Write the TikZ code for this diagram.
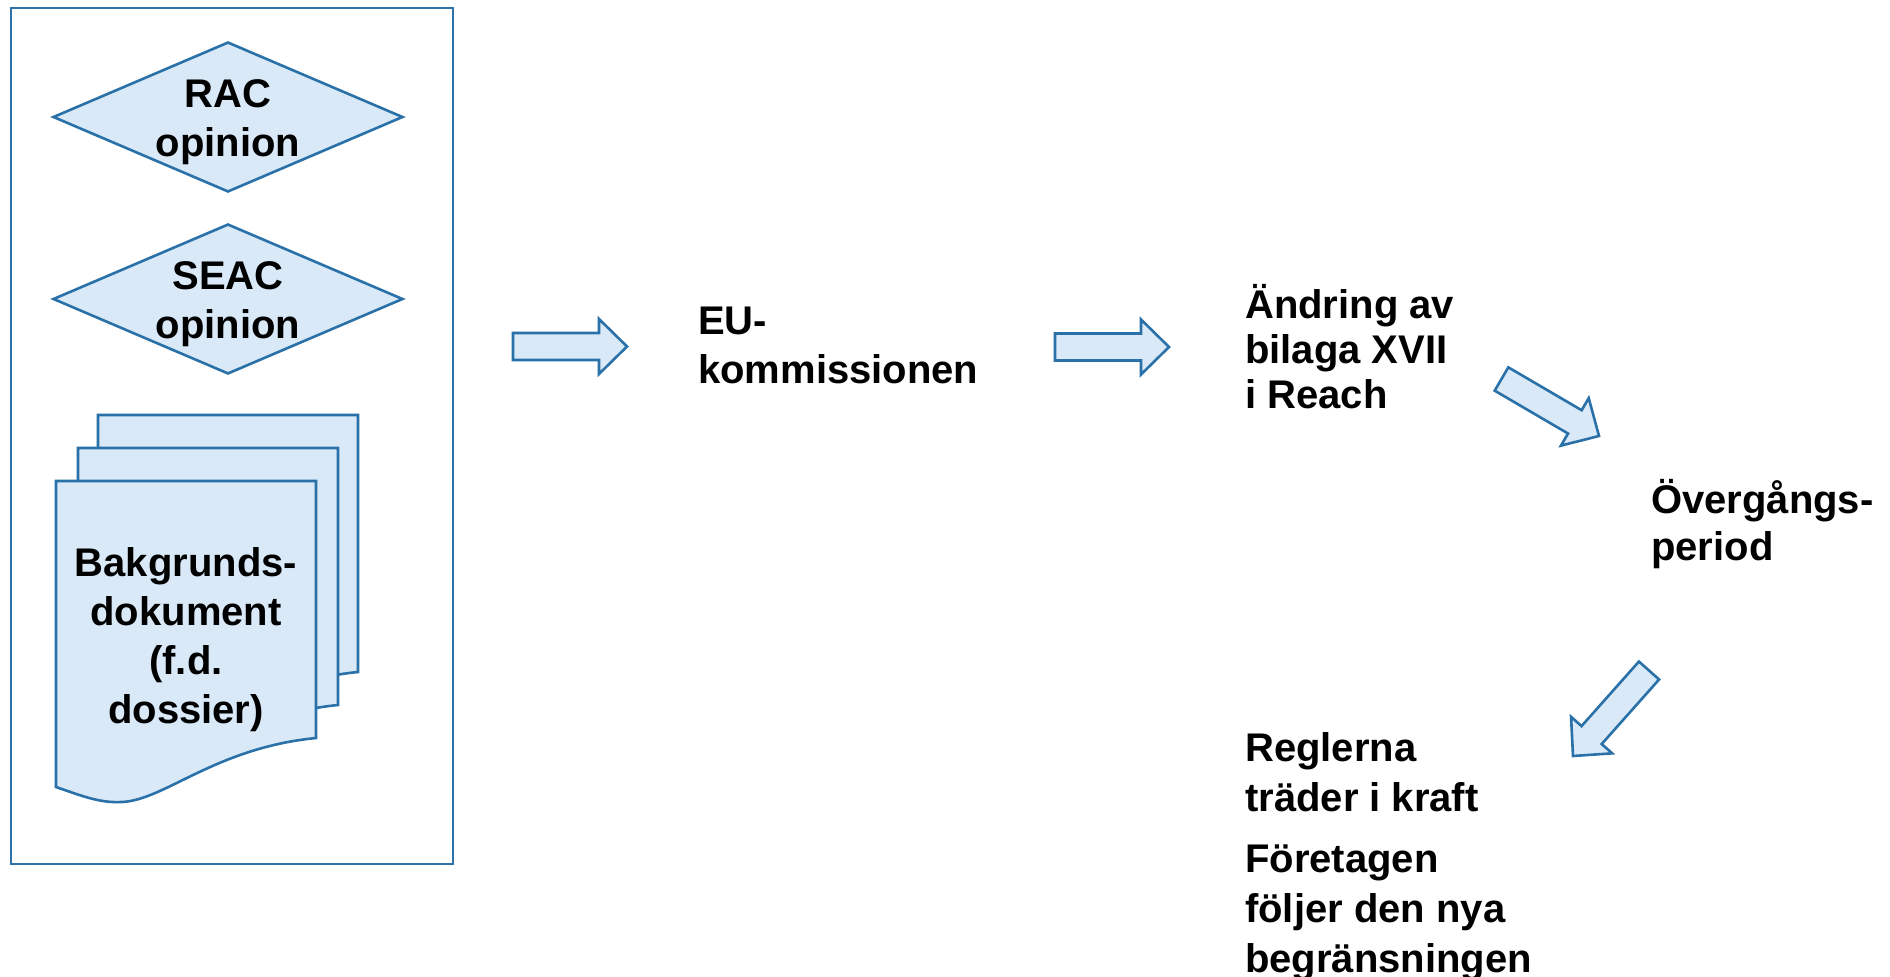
\documentclass[tikz,border=0pt]{standalone}
\usepackage{fontspec}
\setmainfont{Liberation Sans}
\usetikzlibrary{calc,shapes.geometric}
\definecolor{bstroke}{RGB}{41,113,168}
\definecolor{bfill}{RGB}{218,233,247}
\newcommand\tl{\rule{0pt}{40pt}}
\newcommand\blockarrow[2]{%
  \coordinate (bah) at ($(#2)!28pt!(#1)$);
  \draw[shp] ($(#1)!13.5pt!90:(#2)$) -- ($(bah)!13.5pt!-90:(#1)$) -- ($(bah)!27.5pt!-90:(#1)$) -- (#2) -- ($(bah)!27.5pt!90:(#1)$) -- ($(bah)!13.5pt!90:(#1)$) -- ($(#1)!13.5pt!-90:(#2)$) -- cycle;}
\newcommand\docpage[2]{%
  \begin{scope}[shift={(#1,#2)}]
    \draw[shp] (0,0) -- (260,0) -- (260,257) .. controls (159,267) and (109,319) .. (66,321) .. controls (44,322) and (29,316) .. (0,306) -- cycle;
  \end{scope}}
\begin{document}
\begin{tikzpicture}[x=1pt,y=-1pt,
  shp/.style={draw=bstroke, fill=bfill, line width=2.6pt, line join=miter},
  panel/.style={draw=bstroke, line width=2.6pt},
  dia/.style={shape=diamond, shp, minimum width=350pt, minimum height=150pt, inner sep=0pt},
  txt/.style={font=\fontsize{40}{49}\selectfont\bfseries, inner sep=0pt, align=left, anchor=north west},
  ctxt/.style={font=\fontsize{40}{49}\selectfont\bfseries, inner sep=0pt, align=center, anchor=north}]
\useasboundingbox (0,0) rectangle (1890,977);
% left panel
\draw[panel] (11,8) rectangle (453,864);
\node[dia] (rac) at (228,117) {};
\node[ctxt] (racl) at (228,67) {\tl RAC\\opinion};
\node[dia] (seac) at (228,299) {};
\node[ctxt] (seacl) at (228,249) {\tl SEAC\\opinion};
% document stack
\docpage{98}{415}
\docpage{78}{448}
\docpage{56}{481}
\node[ctxt] (doc) at (186,536) {\tl Bakgrunds-\\dokument\\(f.d.\\dossier)};
% texts
\node[txt] (eu) at (698,294) {\tl EU-\\kommissionen};
\node[txt, font=\fontsize{40}{45}\selectfont\bfseries] (andr) at (1245,278) {\tl Ändring av\\bilaga XVII\\i Reach};
\node[txt, font=\fontsize{40}{47}\selectfont\bfseries] (over) at (1651,473) {\tl Övergångs-\\period};
\node[txt, font=\fontsize{40}{50}\selectfont\bfseries] (regl) at (1245,721) {\tl Reglerna\\träder i kraft\\[11pt]Företagen\\följer den nya\\begränsningen};
% block arrows
\coordinate (a1s) at (513,346.5);
\coordinate (a1e) at (627,346.5);
\coordinate (a2s) at (1055,347);
\coordinate (a2e) at (1169,347);
\coordinate (a3s) at (1501.5,379);
\coordinate (a3e) at (1599,436);
\coordinate (a4s) at (1649,670.5);
\coordinate (a4e) at (1573,756);
\blockarrow{a1s}{a1e}
\blockarrow{a2s}{a2e}
\blockarrow{a3s}{a3e}
\blockarrow{a4s}{a4e}
\end{tikzpicture}
\end{document}
